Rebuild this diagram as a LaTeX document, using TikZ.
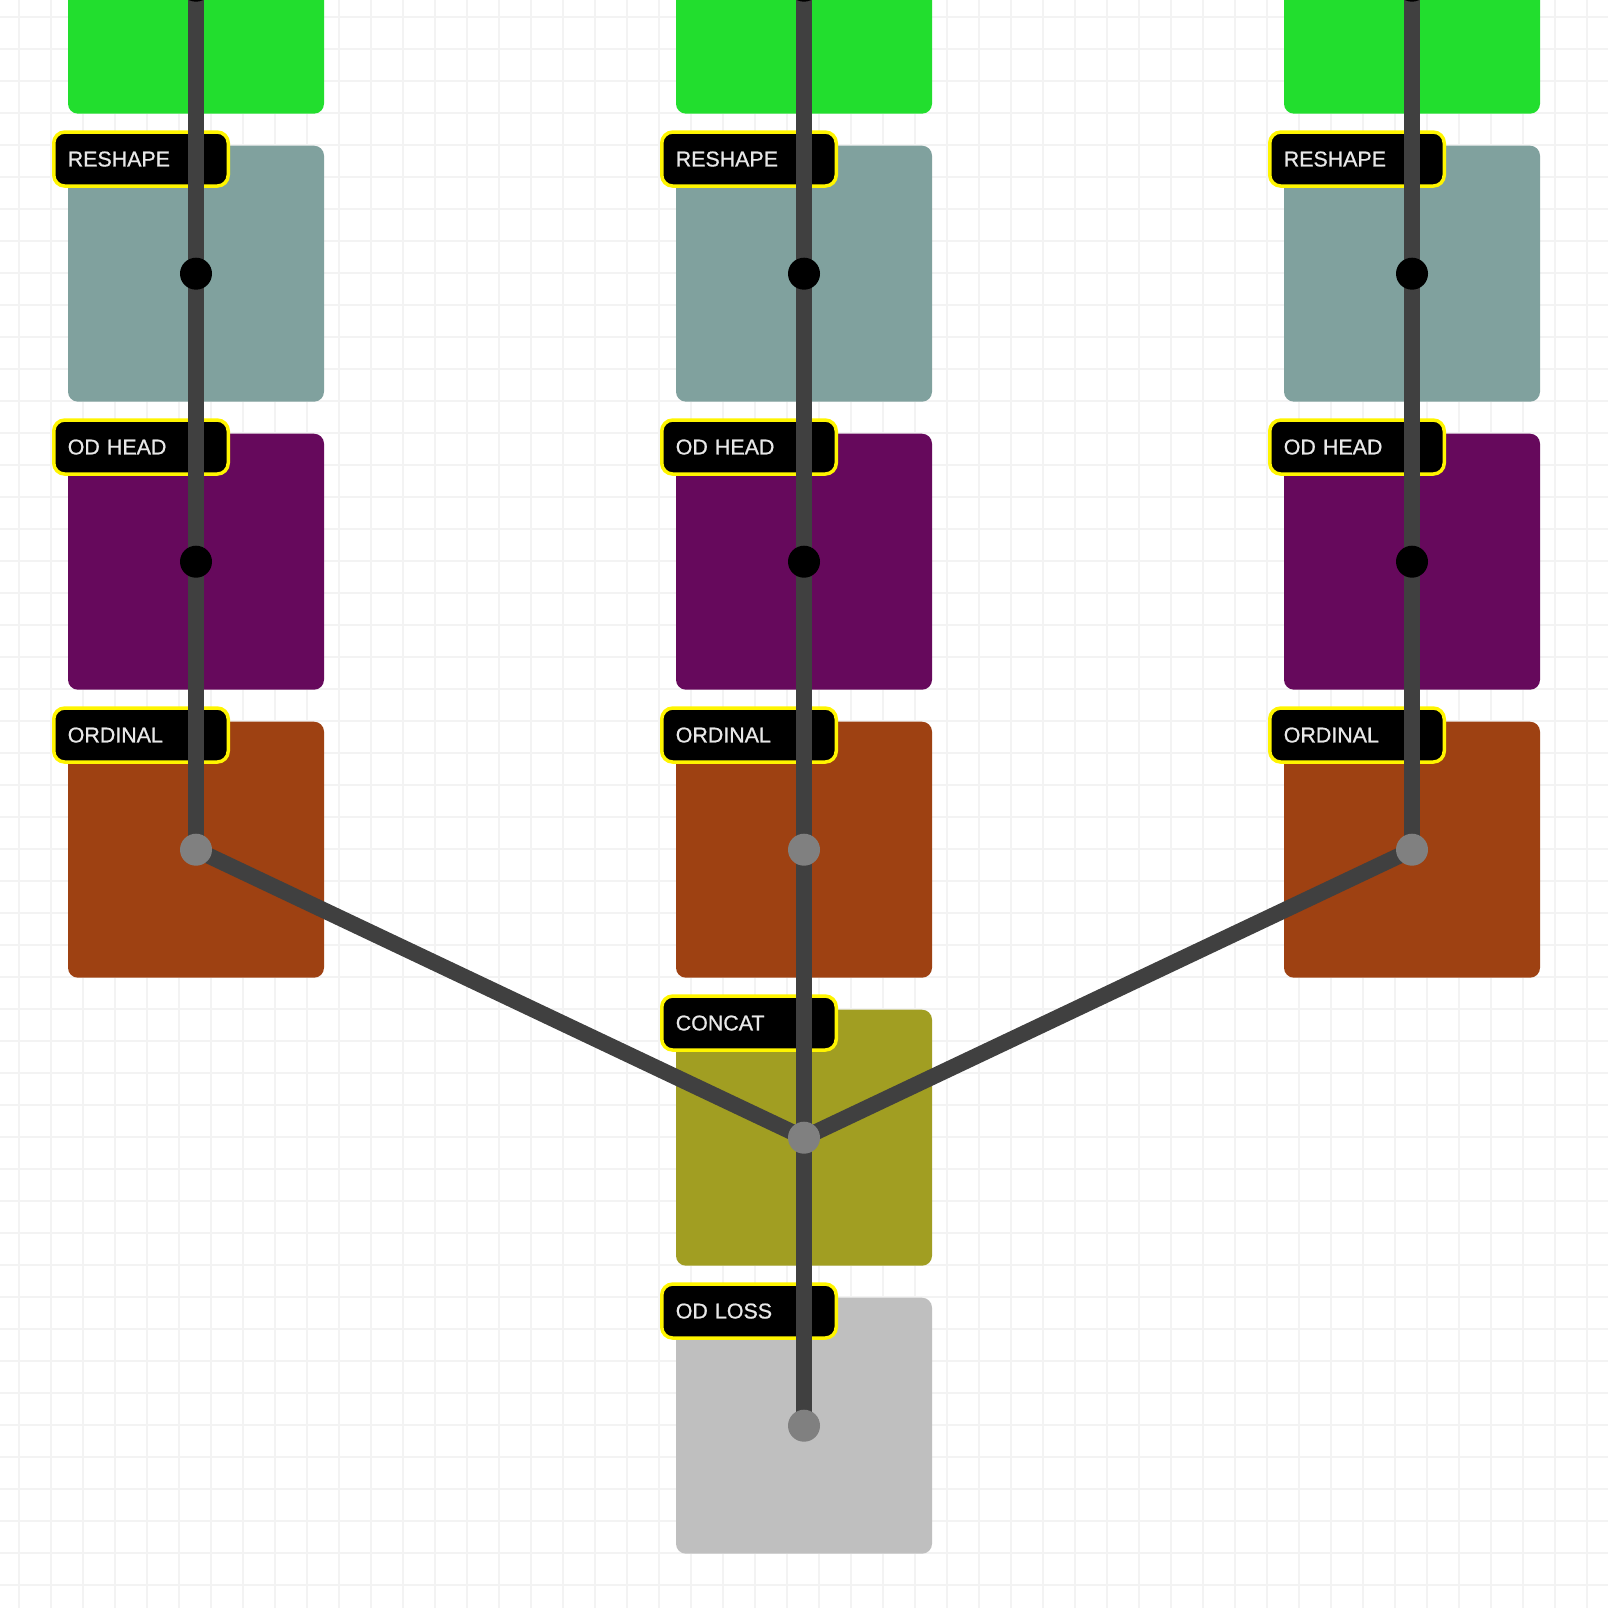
\documentclass[tikz,border=0pt]{standalone}
\usepackage{fontspec}
\setmainfont{Liberation Sans}
\newfontfamily\labfont{Liberation Sans}[FakeBold=0.8]
\definecolor{cgreen}{RGB}{34,222,46}
\definecolor{cteal}{RGB}{128,161,158}
\definecolor{cpurple}{RGB}{102,9,92}
\definecolor{corange}{RGB}{158,65,18}
\definecolor{colive}{RGB}{161,158,34}
\definecolor{clgray}{RGB}{191,191,191}
\definecolor{cline}{RGB}{64,64,64}
\definecolor{cgdot}{RGB}{128,128,128}
\definecolor{cyel}{RGB}{255,245,0}
\definecolor{ctext}{RGB}{232,232,232}
\definecolor{cgrid}{RGB}{243,243,243}
\begin{document}
\begin{tikzpicture}[x=1pt,y=-1pt,
  gridline/.style={draw=cgrid, line width=2pt},
  blk/.style={rounded corners=10pt, minimum width=256pt, minimum height=256pt, inner sep=0pt, draw=none},
  lab/.style={fill=black, draw=cyel, line width=3.5pt, rounded corners=11pt,
    minimum height=54pt, inner xsep=14pt, inner ysep=0pt, text width=146.5pt, align=left,
    text=ctext, font=\labfont\fontsize{21.4}{24}\selectfont, anchor=north west},
  wire/.style={draw=cline, line width=16pt},
  bdot/.style={circle, fill=black, minimum size=32pt, inner sep=0pt},
  gdot/.style={circle, fill=cgdot, minimum size=32pt, inner sep=0pt}]
\useasboundingbox (0,0) rectangle (1608,1608);
\clip (0,0) rectangle (1608,1608);
\fill[white] (0,0) rectangle (1608,1608);
% grid
\foreach \k in {0,...,49} {
  \draw[gridline] ({19.3+32*\k},0) -- ({19.3+32*\k},1608);
  \draw[gridline] (0,{16.7+32*\k}) -- (1608,{16.7+32*\k});
}
% boxes
\foreach \c/\x in {l/196, m/804, r/1412} {
  \node[blk, fill=cgreen]  (\c0) at (\x,-14.3) {};
  \node[blk, fill=cteal]   (\c1) at (\x,273.7) {};
  \node[blk, fill=cpurple] (\c2) at (\x,561.7) {};
  \node[blk, fill=corange] (\c3) at (\x,849.7) {};
}
\node[blk, fill=colive] (m4) at (804,1137.7) {};
\node[blk, fill=clgray] (m5) at (804,1425.7) {};
% labels
\foreach \c/\x in {l/196, m/804, r/1412} {
  \node[lab] (\c1lab) at (\x-144,273.7-143.4) {RESHAPE};
  \node[lab] (\c2lab) at (\x-144,561.7-143.4) {OD HEAD};
  \node[lab] (\c3lab) at (\x-144,849.7-143.4) {ORDINAL};
}
\node[lab] (m4lab) at (804-144,1137.7-143.4) {CONCAT};
\node[lab] (m5lab) at (804-144,1425.7-143.4) {OD LOSS};
% dots (positions)
\foreach \c in {l,m,r} {
  \coordinate (\c d0) at (\c0.center);
  \coordinate (\c d1) at (\c1.center);
  \coordinate (\c d2) at (\c2.center);
  \coordinate (\c d3) at (\c3.center);
}
\coordinate (md4) at (m4.center);
\coordinate (md5) at (m5.center);
% wires
\foreach \c in {l,m,r} {
  \draw[wire] (\c d0) -- (\c d1) -- (\c d2) -- (\c d3);
}
\draw[wire] (md3) -- (md4) -- (md5);
\draw[wire] (ld3) -- (md4);
\draw[wire] (rd3) -- (md4);
% dot markers
\foreach \c in {l,m,r} {
  \node[bdot] (\c p0) at (\c d0) {};
  \node[bdot] (\c p1) at (\c d1) {};
  \node[bdot] (\c p2) at (\c d2) {};
  \node[gdot] (\c p3) at (\c d3) {};
}
\node[gdot] (mp4) at (md4) {};
\node[gdot] (mp5) at (md5) {};
\end{tikzpicture}
\end{document}
